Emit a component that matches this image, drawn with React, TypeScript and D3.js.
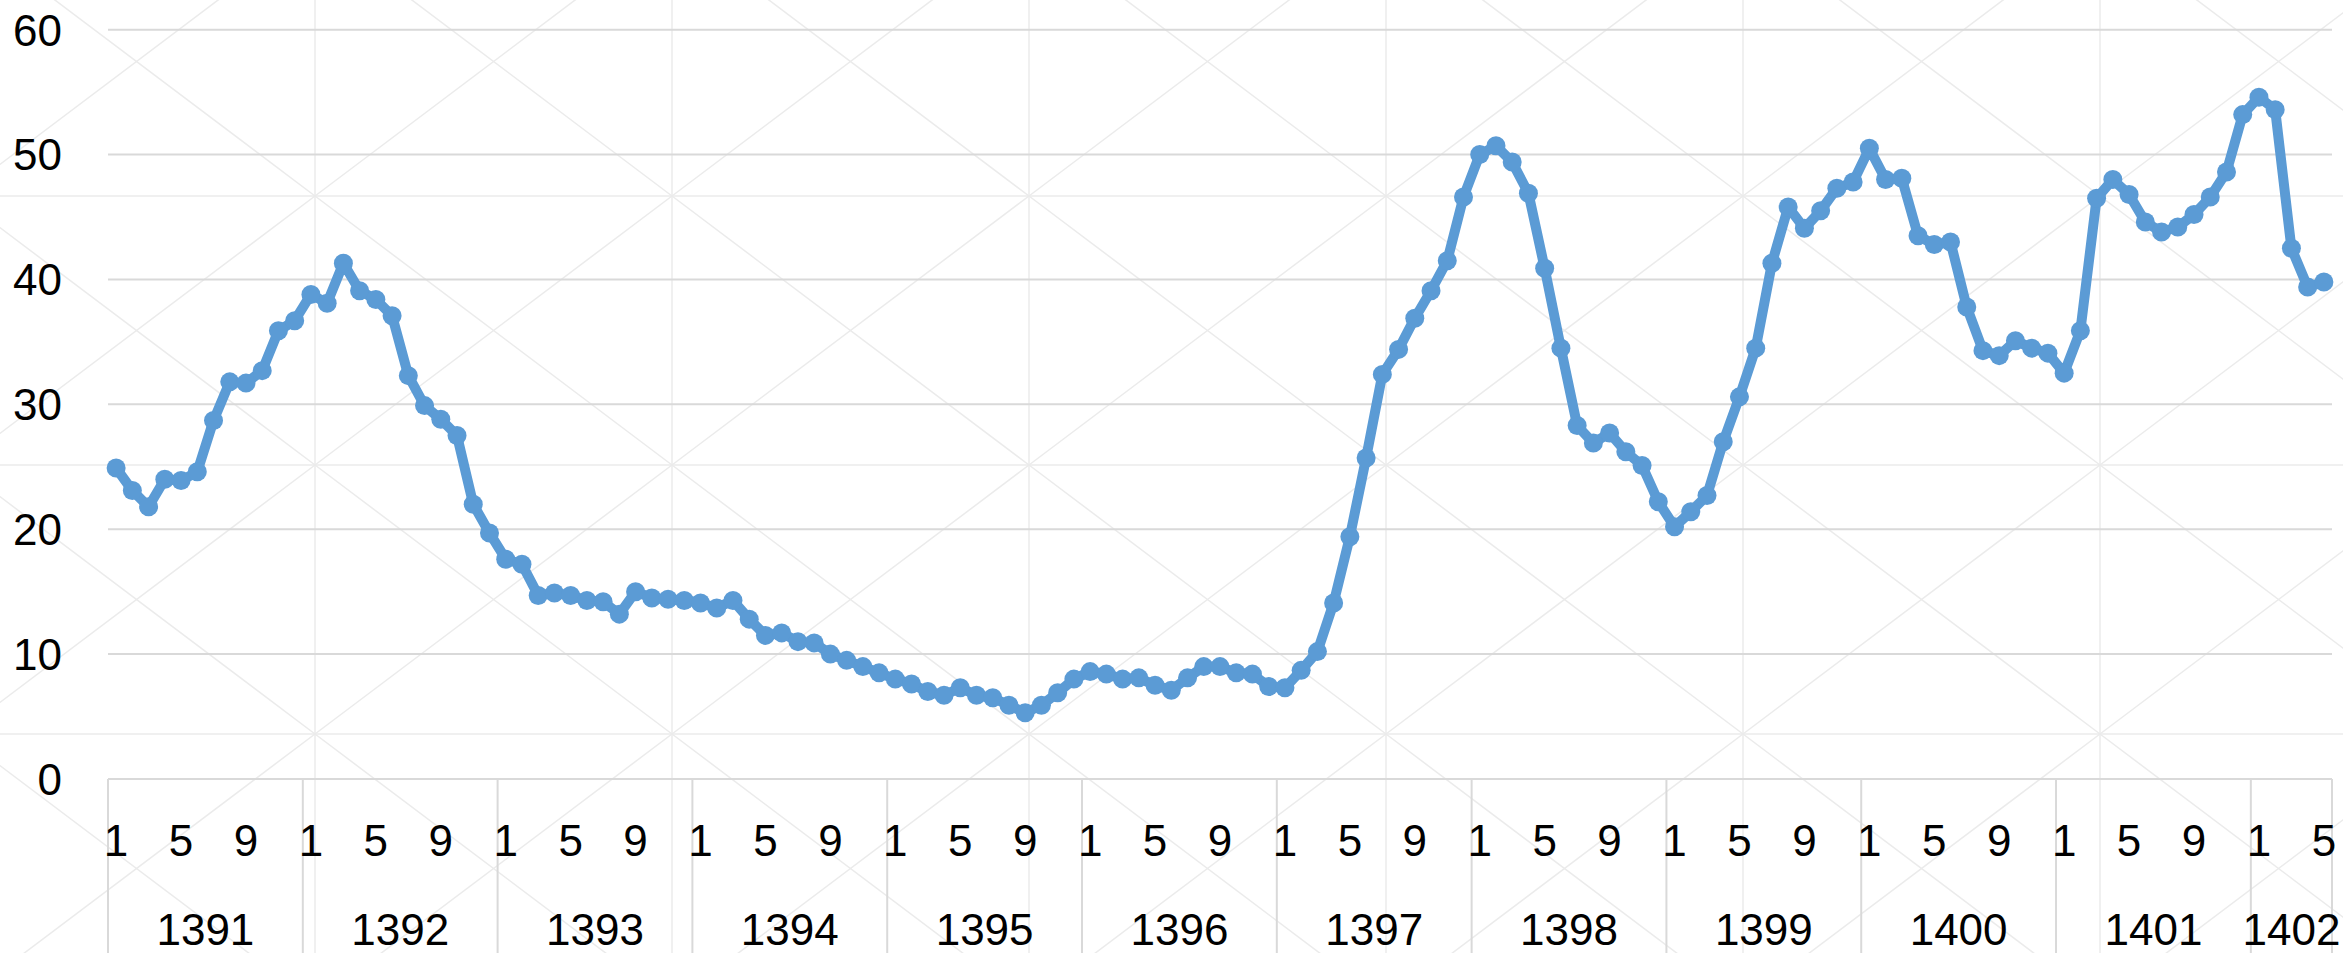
import React, { useEffect } from "react";
import * as d3 from "d3";

// ---- data ----
const years = ["1391", "1392", "1393", "1394", "1395", "1396", "1397", "1398", "1399", "1400", "1401", "1402"];
const monthTickLabels = ["1", "5", "9"];
const yTicks = [0, 10, 20, 30, 40, 50, 60];

const v1391 = [24.9, 23.1, 21.8, 24.0, 23.9, 24.6, 28.7, 31.8, 31.7, 32.7, 35.9, 36.7];
const v1392 = [38.8, 38.1, 41.3, 39.1, 38.4, 37.1, 32.3, 29.9, 28.8, 27.5, 22.0, 19.7];
const v1393 = [17.6, 17.2, 14.7, 14.9, 14.7, 14.3, 14.2, 13.2, 15.0, 14.5, 14.4, 14.3];
const v1394 = [14.1, 13.7, 14.3, 12.8, 11.5, 11.7, 11.0, 10.9, 10.0, 9.5, 9.0, 8.5];
const v1395 = [8.0, 7.6, 7.0, 6.7, 7.3, 6.7, 6.5, 5.9, 5.3, 5.9, 6.9, 8.0];
const v1396 = [8.6, 8.4, 8.0, 8.1, 7.5, 7.1, 8.1, 9.0, 9.0, 8.5, 8.4, 7.4];
const v1397 = [7.3, 8.7, 10.2, 14.1, 19.4, 25.7, 32.4, 34.4, 36.9, 39.1, 41.5, 46.6];
const v1398 = [50.0, 50.7, 49.4, 46.9, 40.9, 34.5, 28.3, 26.9, 27.7, 26.2, 25.1, 22.2];
const v1399 = [20.2, 21.4, 22.7, 27.0, 30.6, 34.5, 41.3, 45.8, 44.1, 45.5, 47.3, 47.8];
const v1400 = [50.5, 48.0, 48.1, 43.5, 42.8, 43.0, 37.8, 34.3, 33.9, 35.1, 34.5, 34.1];
const v1401 = [32.5, 35.9, 46.5, 48.0, 46.8, 44.6, 43.8, 44.2, 45.2, 46.6, 48.6, 53.2];
const v1402 = [54.6, 53.6, 42.5, 39.4, 39.8];

const yearValues = [v1391, v1392, v1393, v1394, v1395, v1396, v1397, v1398, v1399, v1400, v1401, v1402];

type Pt = { year: string; month: number; value: number; i: number };

export default function App() {
  useEffect(() => {
    document.body.style.margin = "0";
  }, []);

  const W = 2343;
  const H = 953;
  const left = 108;
  const right = 2332;
  const top = 29.7;
  const bottom = 779;

  const points: Pt[] = [];
  const yearStarts: { year: string; start: number; count: number }[] = [];
  yearValues.forEach((vals, yi) => {
    yearStarts.push({ year: years[yi], start: points.length, count: vals.length });
    vals.forEach((v, m) => {
      points.push({ year: years[yi], month: m + 1, value: v, i: points.length });
    });
  });

  const x = d3
    .scaleBand<number>()
    .domain(points.map((p) => p.i))
    .range([left, right])
    .paddingInner(0)
    .paddingOuter(0);
  const bw = x.bandwidth();
  const cx = (i: number) => (x(i) as number) + bw / 2;
  const y = d3.scaleLinear().domain([0, 60]).range([bottom, top]);

  const line = d3
    .line<Pt>()
    .x((d) => cx(d.i))
    .y((d) => y(d.value));

  // background pattern of cells with diagonals
  const cellW = 357;
  const cellH = 269;
  const x0 = 315 - cellW;
  const y0 = 196 - cellH;
  const pat: JSX.Element[] = [];
  for (let cx0 = x0; cx0 < W; cx0 += cellW) {
    for (let cy0 = y0; cy0 < H; cy0 += cellH) {
      pat.push(
        <line key={`a${cx0}_${cy0}`} x1={cx0} y1={cy0} x2={cx0 + cellW} y2={cy0 + cellH} />,
        <line key={`b${cx0}_${cy0}`} x1={cx0 + cellW} y1={cy0} x2={cx0} y2={cy0 + cellH} />
      );
    }
    pat.push(<line key={`v${cx0}`} x1={cx0} y1={0} x2={cx0} y2={H} />);
  }
  for (let cy0 = y0; cy0 < H; cy0 += cellH) {
    pat.push(<line key={`h${cy0}`} x1={0} y1={cy0} x2={W} y2={cy0} />);
  }

  const font = "'Liberation Sans', Arial, sans-serif";
  const fs = 44;

  const boundaries = [...yearStarts.map((ys) => x(ys.start) as number), right];

  return (
    <svg width={W} height={H} style={{ display: "block" }} fontFamily={font}>
      <rect x={0} y={0} width={W} height={H} fill="#ffffff" />
      <g stroke="#ebebeb" strokeWidth={1.5}>{pat}</g>

      {/* gridlines */}
      <g stroke="#d9d9d9" strokeWidth={2}>
        {yTicks
          .filter((t) => t > 0)
          .map((t) => (
            <line key={t} x1={left} x2={right} y1={y(t)} y2={y(t)} />
          ))}
      </g>

      {/* category axis box */}
      <g stroke="#d9d9d9" strokeWidth={2}>
        <line x1={left} x2={right} y1={bottom} y2={bottom} />
        {boundaries.map((bx, k) => (
          <line key={k} x1={bx} x2={bx} y1={bottom} y2={H} />
        ))}
      </g>

      {/* y labels */}
      <g fontSize={fs} fill="#000" textAnchor="end">
        {yTicks.map((t) => (
          <text key={t} x={62} y={y(t)} dy="0.36em">
            {t}
          </text>
        ))}
      </g>

      {/* month labels */}
      <g fontSize={fs} fill="#000" textAnchor="middle">
        {points
          .filter((p) => monthTickLabels.includes(String(p.month)))
          .map((p) => (
            <text key={p.i} x={cx(p.i)} y={840} dy="0.36em">
              {p.month}
            </text>
          ))}
      </g>

      {/* year labels */}
      <g fontSize={fs} fill="#000" textAnchor="middle">
        {yearStarts.map((ys) => {
          const a = x(ys.start) as number;
          const b = (x(ys.start + ys.count - 1) as number) + bw;
          return (
            <text key={ys.year} x={(a + b) / 2} y={929} dy="0.36em">
              {ys.year}
            </text>
          );
        })}
      </g>

      {/* series */}
      <path d={line(points) || ""} fill="none" stroke="#5b9bd5" strokeWidth={10} strokeLinejoin="round" strokeLinecap="round" />
      <g fill="#5b9bd5">
        {points.map((p) => (
          <circle key={p.i} cx={cx(p.i)} cy={y(p.value)} r={9.5} />
        ))}
      </g>
    </svg>
  );
}
